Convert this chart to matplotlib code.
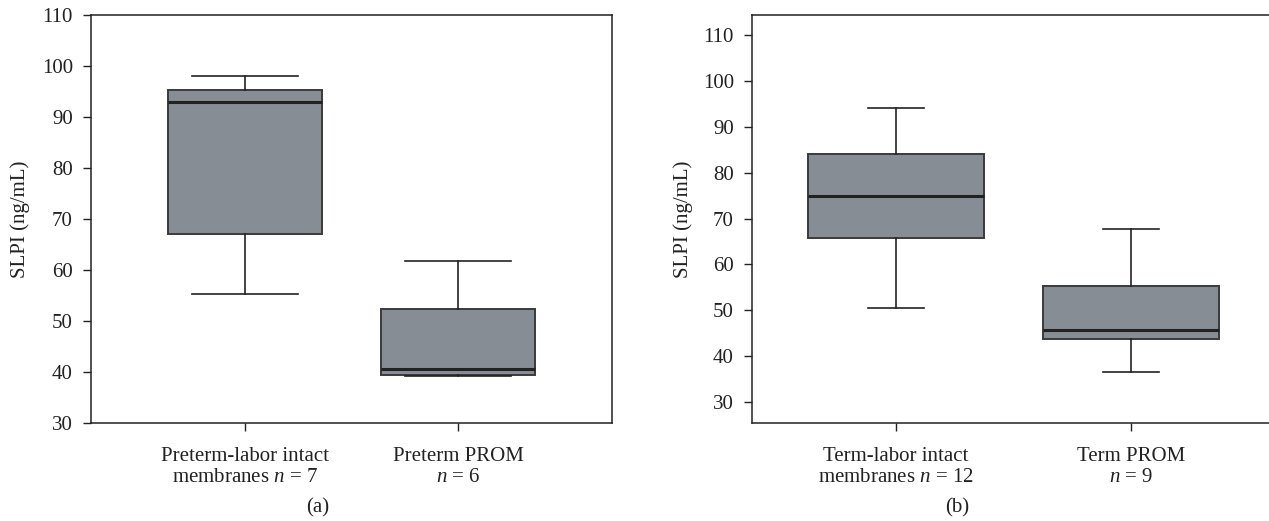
import matplotlib
matplotlib.use("Agg")
import matplotlib.pyplot as plt

# ---- data ----
labels_a = ["Preterm-labor intact\nmembranes $n$ = 7", "Preterm PROM\n$n$ = 6"]
whislo_a = [55.2, 39.3]
q1_a = [67.0, 39.5]
med_a = [93.0, 40.6]
q3_a = [95.3, 52.3]
whishi_a = [98.0, 61.8]

labels_b = ["Term-labor intact\nmembranes $n$ = 12", "Term PROM\n$n$ = 9"]
whislo_b = [50.6, 36.7]
q1_b = [65.8, 43.7]
med_b = [74.8, 45.7]
q3_b = [84.0, 55.3]
whishi_b = [94.1, 67.8]

yticks = [30, 40, 50, 60, 70, 80, 90, 100, 110]
ylabel = "SLPI (ng/mL)"
panel_tags = ["(a)", "(b)"]

plt.rcParams["font.family"] = ["Liberation Serif", "DejaVu Serif"]
plt.rcParams["mathtext.fontset"] = "custom"
plt.rcParams["mathtext.rm"] = "Liberation Serif"
plt.rcParams["mathtext.it"] = "Liberation Serif:italic"

W, H = 1269, 521
fig = plt.figure(figsize=(W / 100, H / 100), dpi=100)

FS = 15
face = "#878d94"
edge = "#3a3a3a"
dark = "#222222"


def stats(labels, lo, q1, med, q3, hi):
    return [dict(label=l, whislo=a, q1=b, med=c, q3=d, whishi=e, fliers=[])
            for l, a, b, c, d, e in zip(labels, lo, q1, med, q3, hi)]


def draw(ax, st, widths, capw, ylim, xlim):
    ax.bxp(st, positions=[1, 2], widths=widths, patch_artist=True,
           showfliers=False, capwidths=capw,
           boxprops=dict(facecolor=face, edgecolor=edge, linewidth=1.4),
           medianprops=dict(color=dark, linewidth=2.2),
           whiskerprops=dict(color=dark, linewidth=1.2),
           capprops=dict(color=dark, linewidth=1.2))
    ax.set_ylim(*ylim)
    ax.set_xlim(*xlim)
    ax.set_yticks(yticks)
    ax.tick_params(axis="both", direction="out", length=6, width=1.0,
                   labelsize=FS, colors="#222222", pad=7)
    ax.tick_params(axis="x", pad=11)
    for t in ax.get_xticklabels():
        t.set_linespacing(1.15)
    for s in ax.spines.values():
        s.set_linewidth(1.1)
        s.set_color("#222222")
    ax.set_ylabel(ylabel, fontsize=FS, color="#222222")


# left panel
axA = fig.add_axes([91 / W, 1 - 423 / H, 521 / W, 408 / H])
draw(axA, stats(labels_a, whislo_a, q1_a, med_a, q3_a, whishi_a),
     0.72, 0.5, (30, 110), (0.277, 2.723))
axA.yaxis.set_label_coords(-0.118, 0.5)

# right panel (right edge cut off by the figure)
axB = fig.add_axes([752 / W, 1 - 423 / H, 523 / W, 408 / H])
draw(axB, stats(labels_b, whislo_b, q1_b, med_b, q3_b, whishi_b),
     0.75, 0.24, (25.5, 114.3), (0.387, 2.613))
axB.yaxis.set_label_coords(-0.112, 0.5)

fig.text(318 / W, 1 - 508 / H, panel_tags[0], fontsize=FS, ha="center",
         va="center", color="#222222")
fig.text(957 / W, 1 - 508 / H, panel_tags[1], fontsize=FS, ha="center",
         va="center", color="#222222")

fig.savefig("out.png", dpi=100)
